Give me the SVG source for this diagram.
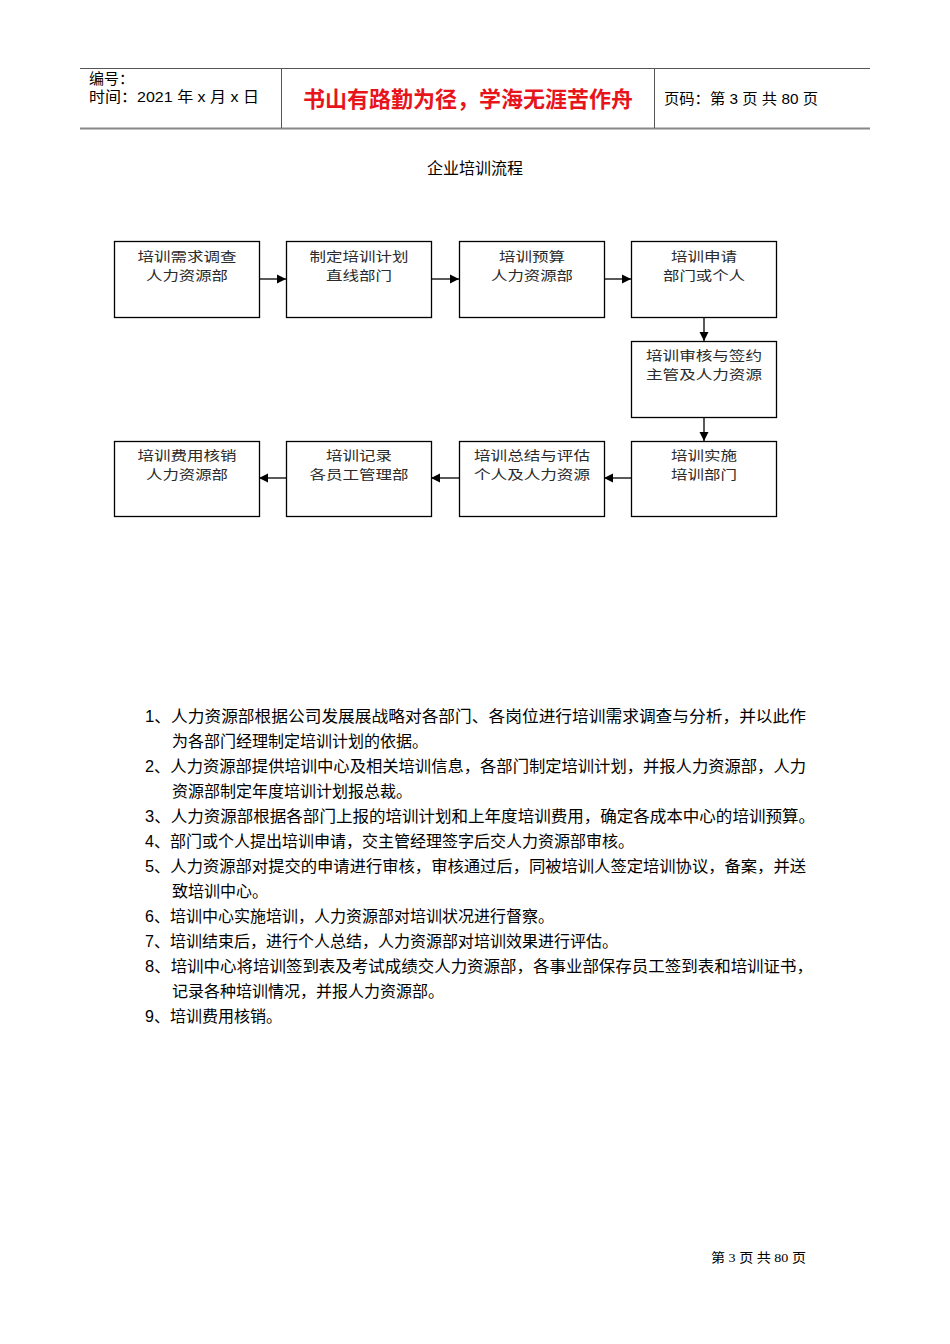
<svg xmlns="http://www.w3.org/2000/svg" width="950" height="1344" viewBox="0 0 950 1344">
<style>
.hd{font-family:"Liberation Sans","Noto Sans CJK SC",sans-serif;font-size:15px;fill:#000}
.bx rect{fill:#fff;stroke:#000;stroke-width:1.3}
.bx text{font-family:"Noto Sans CJK SC",serif;font-size:13px;fill:#2a2a2a;text-anchor:middle;font-weight:400}
.li{font-family:"Liberation Sans","Noto Sans CJK SC",sans-serif;font-size:16px;fill:#000}
.cn line{stroke:#000;stroke-width:1.3}
</style>
<defs>
<marker id="ah" markerWidth="10" markerHeight="10" refX="9" refY="5" orient="auto" markerUnits="userSpaceOnUse">
<path d="M0,0.5 L9,5 L0,9.5 Z" fill="#000"/>
</marker>
</defs>
<rect width="950" height="1344" fill="#fff"/>
<g id="header">
<line x1="80" y1="68.5" x2="870" y2="68.5" stroke="#555" stroke-width="1"/>
<line x1="80" y1="128.5" x2="870" y2="128.5" stroke="#888" stroke-width="2"/>
<line x1="281.5" y1="68" x2="281.5" y2="128" stroke="#555" stroke-width="1"/>
<line x1="654.5" y1="68" x2="654.5" y2="128" stroke="#555" stroke-width="1"/>
<text class="hd" x="89" y="84">编号：</text>
<text class="hd" x="89" y="102" textLength="170" lengthAdjust="spacingAndGlyphs">时间：2021 年 x 月 x 日</text>
<text x="468" y="107" font-family="Noto Sans CJK SC,sans-serif" font-size="22" font-weight="bold" fill="#e8141c" text-anchor="middle">书山有路勤为径，学海无涯苦作舟</text>
<text class="hd" x="664" y="104" textLength="154" lengthAdjust="spacingAndGlyphs">页码：第 3 页 共 80 页</text>
</g>
<text x="475" y="174" font-family="Noto Sans CJK SC,sans-serif" font-size="16" text-anchor="middle" fill="#000">企业培训流程</text>
<g class="cn" id="connectors">
<line x1="259" y1="279" x2="286" y2="279" marker-end="url(#ah)"/>
<line x1="431" y1="279" x2="459" y2="279" marker-end="url(#ah)"/>
<line x1="604" y1="279" x2="631" y2="279" marker-end="url(#ah)"/>
<line x1="704" y1="317" x2="704" y2="341" marker-end="url(#ah)"/>
<line x1="704" y1="417" x2="704" y2="441" marker-end="url(#ah)"/>
<line x1="631" y1="478" x2="604" y2="478" marker-end="url(#ah)"/>
<line x1="459" y1="478" x2="431" y2="478" marker-end="url(#ah)"/>
<line x1="286" y1="478" x2="259" y2="478" marker-end="url(#ah)"/>
</g>
<g id="n1" class="bx"><rect x="114.5" y="241.5" width="145" height="76"/><text x="187" y="261" textLength="99" lengthAdjust="spacingAndGlyphs">培训需求调查</text><text x="187" y="280" textLength="82" lengthAdjust="spacingAndGlyphs">人力资源部</text></g>
<g id="n2" class="bx"><rect x="286.5" y="241.5" width="145" height="76"/><text x="359" y="261" textLength="99" lengthAdjust="spacingAndGlyphs">制定培训计划</text><text x="359" y="280" textLength="66" lengthAdjust="spacingAndGlyphs">直线部门</text></g>
<g id="n3" class="bx"><rect x="459.5" y="241.5" width="145" height="76"/><text x="532" y="261" textLength="66" lengthAdjust="spacingAndGlyphs">培训预算</text><text x="532" y="280" textLength="82" lengthAdjust="spacingAndGlyphs">人力资源部</text></g>
<g id="n4" class="bx"><rect x="631.5" y="241.5" width="145" height="76"/><text x="704" y="261" textLength="66" lengthAdjust="spacingAndGlyphs">培训申请</text><text x="704" y="280" textLength="82" lengthAdjust="spacingAndGlyphs">部门或个人</text></g>
<g id="n5" class="bx"><rect x="631.5" y="341.5" width="145" height="76"/><text x="704" y="360" textLength="116" lengthAdjust="spacingAndGlyphs">培训审核与签约</text><text x="704" y="379" textLength="116" lengthAdjust="spacingAndGlyphs">主管及人力资源</text></g>
<g id="n6" class="bx"><rect x="631.5" y="441.5" width="145" height="75"/><text x="704" y="460" textLength="66" lengthAdjust="spacingAndGlyphs">培训实施</text><text x="704" y="479" textLength="66" lengthAdjust="spacingAndGlyphs">培训部门</text></g>
<g id="n7" class="bx"><rect x="459.5" y="441.5" width="145" height="75"/><text x="532" y="460" textLength="116" lengthAdjust="spacingAndGlyphs">培训总结与评估</text><text x="532" y="479" textLength="116" lengthAdjust="spacingAndGlyphs">个人及人力资源</text></g>
<g id="n8" class="bx"><rect x="286.5" y="441.5" width="145" height="75"/><text x="359" y="460" textLength="66" lengthAdjust="spacingAndGlyphs">培训记录</text><text x="359" y="479" textLength="99" lengthAdjust="spacingAndGlyphs">各员工管理部</text></g>
<g id="n9" class="bx"><rect x="114.5" y="441.5" width="145" height="75"/><text x="187" y="460" textLength="99" lengthAdjust="spacingAndGlyphs">培训费用核销</text><text x="187" y="479" textLength="82" lengthAdjust="spacingAndGlyphs">人力资源部</text></g>
<g id="list">
<text class="li" x="145" y="722" textLength="661" lengthAdjust="spacingAndGlyphs">1、人力资源部根据公司发展展战略对各部门、各岗位进行培训需求调查与分析，并以此作</text>
<text class="li" x="172" y="747">为各部门经理制定培训计划的依据。</text>
<text class="li" x="145" y="772" textLength="661" lengthAdjust="spacingAndGlyphs">2、人力资源部提供培训中心及相关培训信息，各部门制定培训计划，并报人力资源部，人力</text>
<text class="li" x="172" y="797">资源部制定年度培训计划报总裁。</text>
<text class="li" x="145" y="822" textLength="670" lengthAdjust="spacingAndGlyphs">3、人力资源部根据各部门上报的培训计划和上年度培训费用，确定各成本中心的培训预算。</text>
<text class="li" x="145" y="847">4、部门或个人提出培训申请，交主管经理签字后交人力资源部审核。</text>
<text class="li" x="145" y="872" textLength="661" lengthAdjust="spacingAndGlyphs">5、人力资源部对提交的申请进行审核，审核通过后，同被培训人签定培训协议，备案，并送</text>
<text class="li" x="172" y="897">致培训中心。</text>
<text class="li" x="145" y="922">6、培训中心实施培训，人力资源部对培训状况进行督察。</text>
<text class="li" x="145" y="947">7、培训结束后，进行个人总结，人力资源部对培训效果进行评估。</text>
<text class="li" x="145" y="972" textLength="668" lengthAdjust="spacingAndGlyphs">8、培训中心将培训签到表及考试成绩交人力资源部，各事业部保存员工签到表和培训证书，</text>
<text class="li" x="172" y="997">记录各种培训情况，并报人力资源部。</text>
<text class="li" x="145" y="1022">9、培训费用核销。</text>
</g>
<text x="711" y="1262" font-family="Liberation Serif,Noto Sans CJK SC,serif" font-size="13" fill="#000" textLength="95" lengthAdjust="spacingAndGlyphs">第 3 页 共 80 页</text>
</svg>
